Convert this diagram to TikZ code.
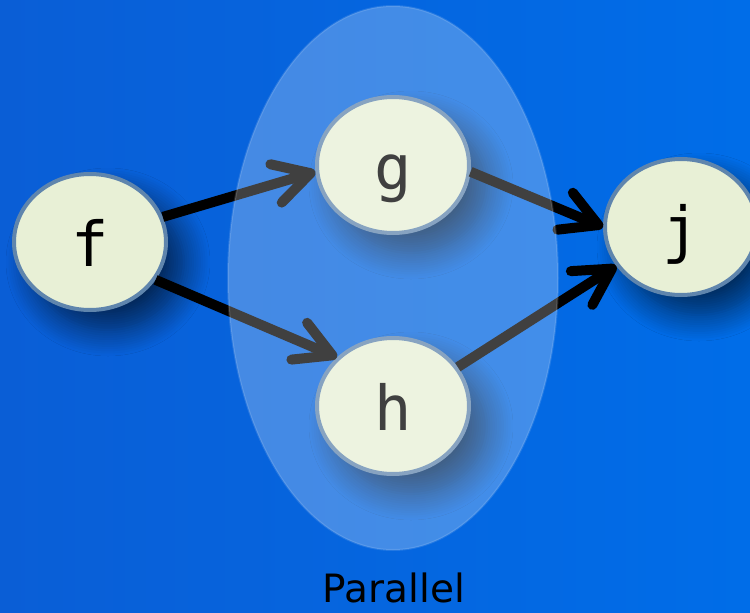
\documentclass[tikz,border=0pt]{standalone}
\usepackage{fontspec}
\setmainfont{DejaVu Sans}
\newfontfamily\monofont{DejaVu Sans Mono}
\usetikzlibrary{shapes.geometric,arrows.meta,shadows.blur}
\definecolor{nodefill}{HTML}{E8F0D6}
\definecolor{nodeborder}{HTML}{5F85AD}
\definecolor{bgleft}{HTML}{0A5ED6}
\definecolor{bgright}{HTML}{006DE8}
\begin{document}
\begin{tikzpicture}[x=1pt,y=-1pt,
  vertex/.style={ellipse, draw=nodeborder, line width=4pt, fill=nodefill,
    minimum width=152pt, minimum height=136pt, inner sep=0pt,
    font=\monofont\fontsize{62}{62}\selectfont, text height=48pt, text depth=0pt,
    blur shadow={shadow xshift=18pt, shadow yshift=-20pt, shadow blur radius=26pt, shadow opacity=60, shadow blur steps=12}},
  link/.style={draw=black, line width=10pt,
    -{Straight Barb[length=36pt, width=40pt, round]}},
  caption/.style={font=\fontsize{39}{39}\selectfont, text=black, anchor=base, inner sep=0pt}]
\useasboundingbox (0,0) rectangle (750,613);
\shade[left color=bgleft, right color=bgright] (0,0) rectangle (750,613);

\node[vertex] (f) at (90,242) {f};
\node[vertex] (g) at (393,165) {g};
\node[vertex] (h) at (393,406) {h};
\node[vertex] (j) at (681,227) {j};

\draw[link] (f.19) -- (g.185);
\draw[link] (f.330) -- (h.139);
\draw[link] (g.355) -- (j.180);
\draw[link] (h.31) -- (j.211);

\node[ellipse, fill=white, fill opacity=0.25, draw=white, draw opacity=0.12, line width=2pt,
  minimum width=330pt, minimum height=544pt] (par) at (393,278) {};
\node[caption] (plabel) at (394,602) {Parallel};
\end{tikzpicture}
\end{document}
